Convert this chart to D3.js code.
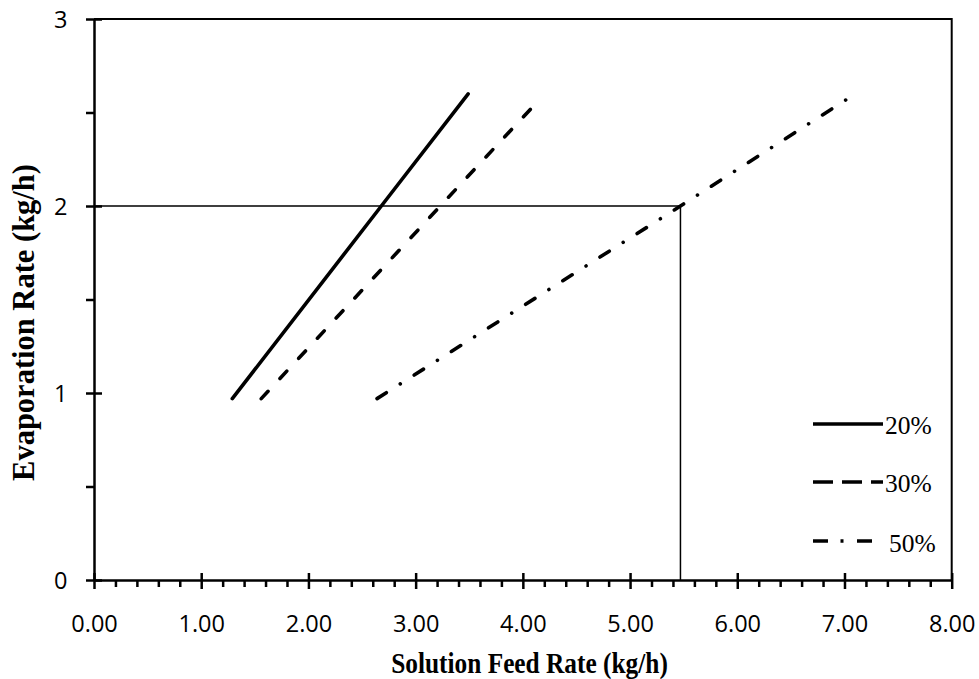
<!DOCTYPE html>
<html>
<head>
<meta charset="utf-8">
<script src="https://cdn.jsdelivr.net/npm/d3@7/dist/d3.min.js"></script>
<style>
  html, body { margin: 0; padding: 0; background: #fff; }
  svg { display: block; }
</style>
</head>
<body>
<svg id="chart" width="979" height="679"></svg>
<script>
// Solution feed rate (kg/h) vs evaporation rate (kg/h) at three concentrations
const seriesNames = ["20%", "30%", "50%"];
const feed20 = [1.29, 2.68, 3.49];
const evap20 = [0.97, 2.00, 2.60];
const feed30 = [1.56, 3.23, 4.14];
const evap30 = [0.97, 2.00, 2.56];
const feed50 = [2.64, 5.47, 7.02];
const evap50 = [0.97, 2.00, 2.57];

// operating point read-off lines
const guideFeed = 5.47;
const guideEvap = 2.0;

const xMajor = [0, 1, 2, 3, 4, 5, 6, 7, 8];
const yMajor = [0, 1, 2, 3];

const svg = d3.select("#chart");
const plotLeft = 94, plotRight = 951.7, plotTop = 19, plotBottom = 580;

const x = d3.scaleLinear().domain([0, 8]).range([plotLeft, plotRight]);
const y = d3.scaleLinear().domain([0, 3]).range([plotBottom, plotTop]);

const xMinor = d3.range(0, 8.001, 0.2).filter(v => Math.abs(v - Math.round(v)) > 1e-6);
const yMinor = d3.range(0, 3.001, 0.5).filter(v => Math.abs(v - Math.round(v)) > 1e-6);

// frame (top and right edges)
svg.append("path")
  .attr("d", `M${plotLeft},${plotTop}H${plotRight}V${plotBottom}`)
  .attr("fill", "none").attr("stroke", "#000").attr("stroke-width", 2);

// read-off guide lines
svg.append("path")
  .attr("d", `M${x(0)},${y(guideEvap)}H${x(guideFeed)}V${y(0)}`)
  .attr("fill", "none").attr("stroke", "#000").attr("stroke-width", 1.5);

// x axis: minor ticks, then major ticks with labels
svg.append("g").attr("transform", `translate(0,${plotBottom})`)
  .call(d3.axisBottom(x).tickValues(xMinor).tickSize(7).tickFormat(""))
  .call(g => g.select(".domain").remove())
  .call(g => g.selectAll("line").attr("stroke-width", 2.5));

const gx = svg.append("g").attr("transform", `translate(0,${plotBottom})`)
  .call(d3.axisBottom(x).tickValues(xMajor).tickSizeInner(9).tickSizeOuter(0)
    .tickFormat(d3.format(".2f")));
gx.select(".domain").attr("stroke-width", 2.5);
gx.selectAll(".tick line").attr("y1", -7).attr("stroke-width", 2.5);
gx.selectAll(".tick text")
  .attr("y", 35.5).attr("dy", "0.71em")
  .attr("font-family", "'Open Sans', sans-serif").attr("font-size", 23.5).attr("fill", "#000");

// y axis
svg.append("g").attr("transform", `translate(${plotLeft},0)`)
  .call(d3.axisLeft(y).tickValues(yMinor).tickSize(8).tickFormat(""))
  .call(g => g.select(".domain").remove())
  .call(g => g.selectAll("line").attr("stroke-width", 2.5));

const gy = svg.append("g").attr("transform", `translate(${plotLeft},0)`)
  .call(d3.axisLeft(y).tickValues(yMajor).tickSizeInner(8).tickSizeOuter(0)
    .tickFormat(d3.format("d")));
gy.select(".domain").attr("stroke-width", 2.5);
gy.selectAll(".tick line").attr("x2", 8).attr("x1", -8).attr("stroke-width", 2.5);
gy.selectAll(".tick text")
  .attr("x", -26.5).attr("dy", "0.36em")
  .attr("font-family", "'Open Sans', sans-serif").attr("font-size", 23.5).attr("fill", "#000");

// axis titles
svg.append("text")
  .attr("transform", "translate(529.5,673) scale(0.845,1)")
  .attr("text-anchor", "middle")
  .attr("font-family", "'Liberation Serif', 'Times New Roman', serif")
  .attr("font-weight", "bold").attr("font-size", 30)
  .text("Solution Feed Rate (kg/h)");

svg.append("text")
  .attr("transform", "translate(33.5,322.5) rotate(-90)")
  .attr("text-anchor", "middle")
  .attr("font-family", "'Liberation Serif', 'Times New Roman', serif")
  .attr("font-weight", "bold").attr("font-size", 30.5)
  .text("Evaporation Rate (kg/h)");

// series lines
const series = [
  { name: seriesNames[0], feed: feed20, evap: evap20, dash: null, legendDash: null },
  { name: seriesNames[1], feed: feed30, evap: evap30, dash: "10,17.5", legendDash: "20,9" },
  { name: seriesNames[2], feed: feed50, evap: evap50, dash: "11,16.5,0.01,16.5", legendDash: "15,12.5,3,13.5" }
];

const line = d3.line().x(d => x(d[0])).y(d => y(d[1]));

series.forEach(s => {
  const pts = s.feed.map((f, i) => [f, s.evap[i]]);
  svg.append("path")
    .datum(pts)
    .attr("d", line)
    .attr("fill", "none")
    .attr("stroke", "#000")
    .attr("stroke-width", 3.6)
    .attr("stroke-linecap", "round")
    .attr("stroke-dasharray", s.dash);
});

// legend
const legendY = [424, 482, 541];
const legendText = [434, 492.3, 551.5];
series.forEach((s, i) => {
  svg.append("line")
    .attr("x1", 813).attr("x2", 883)
    .attr("y1", legendY[i]).attr("y2", legendY[i])
    .attr("stroke", "#000").attr("stroke-width", 3.6)
    .attr("stroke-dasharray", s.legendDash);
  svg.append("text")
    .attr("x", i === 2 ? 889 : 885).attr("y", legendText[i])
    .attr("font-family", "'Liberation Serif', 'Times New Roman', serif")
    .attr("font-size", 25.5)
    .text(s.name);
});
</script>
</body>
</html>
